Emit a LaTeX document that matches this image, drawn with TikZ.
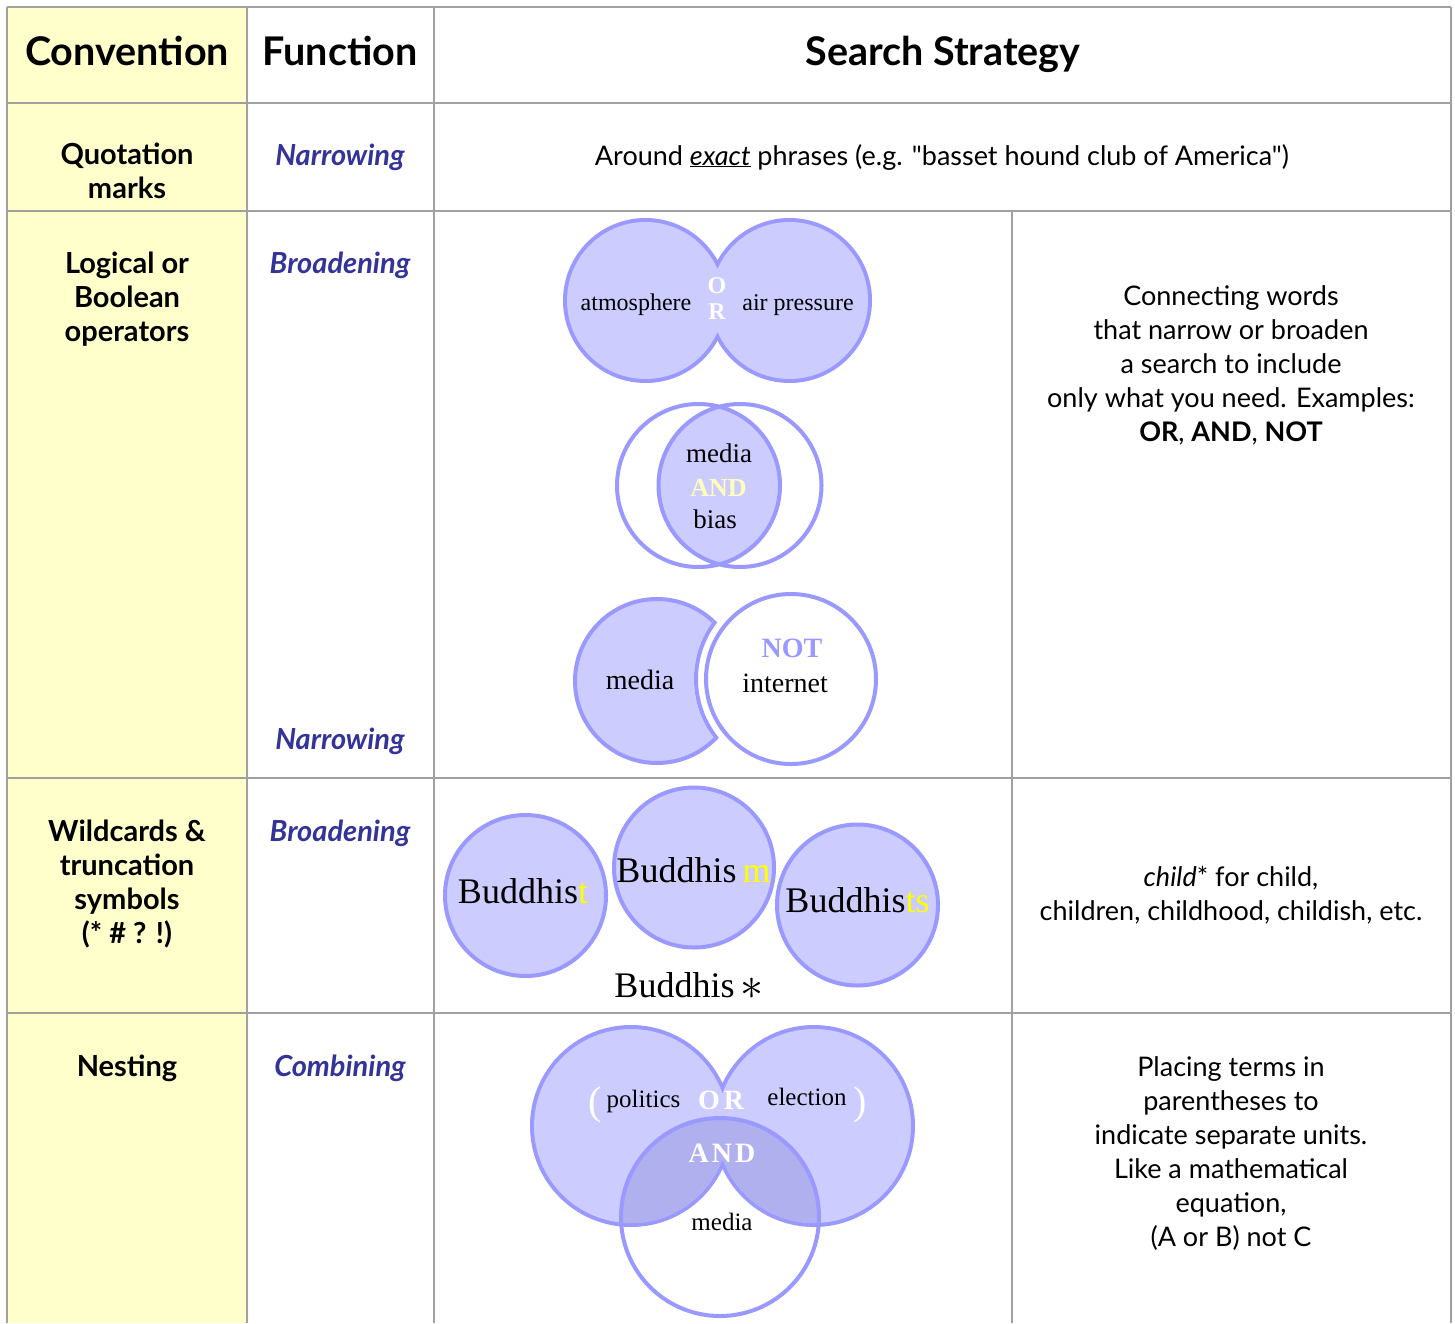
\documentclass[tikz,border=0pt]{standalone}
\usepackage{fontspec}
\setmainfont{Lato}[Ligatures=TeXOff]
\newfontfamily\tms{Liberation Serif}
\definecolor{lav}{HTML}{CCCCFF}
\definecolor{lavline}{HTML}{9999FF}
\definecolor{lavdark}{HTML}{B0B0EE}
\definecolor{navyblue}{HTML}{333399}
\definecolor{cellyellow}{HTML}{FFFFCC}
\definecolor{gridgray}{HTML}{A0A0A0}
\definecolor{softyellow}{HTML}{FFFFBB}
\definecolor{brightyellow}{HTML}{FFFF00}
\begin{document}
\begin{tikzpicture}[x=1pt,y=-1pt,
  grid/.style={draw=gridgray, line width=2.5pt},
  hdr/.style={font=\fontsize{39.5}{42}\selectfont\bfseries, anchor=base, inner sep=0pt},
  conv/.style={font=\fontsize{29}{34}\selectfont\bfseries, align=center, anchor=base, inner sep=0pt},
  func/.style={font=\fontsize{29}{30}\selectfont\bfseries\itshape, text=navyblue, anchor=base, inner sep=0pt},
  body/.style={font=\fontsize{27}{34}\selectfont, align=center, anchor=base, inner sep=0pt},
  serif/.style={font=\tms\fontsize{#1}{#1}\selectfont, anchor=base, inner sep=0pt},
  ring/.style={draw=lavline, line width=4pt},
  thickring/.style={draw=lavline, line width=8pt},
]
\useasboundingbox (0,0) rectangle (1455,1323);
\fill[white] (0,0) rectangle (1455,1323);
% yellow first column
\fill[cellyellow] (7,7) rectangle (247,1323);
% grid
\draw[grid] (7,7) -- (1451,7);
\draw[grid] (7,103) -- (1451,103);
\draw[grid] (7,211) -- (1451,211);
\draw[grid] (7,778) -- (1451,778);
\draw[grid] (7,1013) -- (1451,1013);
\draw[grid] (7,7) -- (7,1323);
\draw[grid] (247,7) -- (247,1323);
\draw[grid] (434,7) -- (434,1323);
\draw[grid] (1451,7) -- (1451,1323);
\draw[grid] (1012,211) -- (1012,1323);

% header
\node[hdr] (hconv) at (127,65) {Convention};
\node[hdr] (hfunc) at (340,65) {Function};
\node[hdr] (hstrat) at (943,65) {Search Strategy};

% row 2
\node[conv] (c1) at (127,198) {Quotation\\marks};
\node[func] (f1) at (340,165) {Narrowing};
\node[body] (s1) at (942,165) {Around \underline{\textit{exact}} phrases (e.g. "basset hound club of America")};

% row 3
\node[conv] (c2) at (127,341) {Logical or\\Boolean\\operators};
\node[func] (f2a) at (340,273) {Broadening};
\node[func] (f2b) at (340,749) {Narrowing};
\node[body] (d2) at (1231,441) {Connecting words\\that narrow or broaden\\a search to include\\only what you need. Examples:\\\textbf{OR}, \textbf{AND}, \textbf{NOT}};

% row 4
\node[conv] (c3) at (127,943) {Wildcards \&\\truncation\\symbols\\(* \# ? !)};
\node[func] (f3) at (340,841) {Broadening};
\node[body] (d3) at (1231,920) {\textit{child}* for child,\\children, childhood, childish, etc.};

% row 5
\node[conv] (c4) at (127,1076) {Nesting};
\node[func] (f4) at (340,1076) {Combining};
\node[body] (d4) at (1231,1246) {Placing terms in\\parentheses to\\indicate separate units.\\Like a mathematical\\equation,\\(A or B) not C};

% ---- OR diagram
\draw[thickring] (645.5,300.5) circle (78.5pt) (789.5,300.5) circle (78.5pt);
\fill[lav] (645.5,300.5) circle (78.5pt) (789.5,300.5) circle (78.5pt);
\node[serif=24] (atm) at (636,310) {atmosphere};
\node[serif=24] (airp) at (798,310) {air pressure};
\node[serif=24, text=white, font=\tms\bfseries\fontsize{24}{24}\selectfont] (orO) at (717,293) {O};
\node[serif=24, text=white, font=\tms\bfseries\fontsize{24}{24}\selectfont] (orR) at (717,319) {R};

% ---- AND diagram
\begin{scope}
  \clip (698.5,485.5) circle (81.5pt);
  \fill[lav] (740,485.5) circle (81.5pt);
\end{scope}
\draw[ring] (698.5,485.5) circle (81.5pt) (740,485.5) circle (81.5pt);
\node[serif=27] (andm) at (719,462) {media};
\node[serif=26, text=softyellow, font=\tms\bfseries\fontsize{26}{26}\selectfont] (andA) at (718.5,496) {AND};
\node[serif=27] (andb) at (715,528) {bias};

% ---- NOT diagram
\fill[lav] (657,681) circle (82pt);
\draw[ring] (657,681) circle (82pt);
\fill[white] (791,679) circle (97pt);
\begin{scope}
  \clip (657,681) circle (84pt);
  \draw[ring] (791,679) circle (95pt);
\end{scope}
\draw[ring, fill=white] (791,679) circle (85pt);
\node[serif=28] (notm) at (640,689) {media};
\node[serif=28, text=lavline, font=\tms\bfseries\fontsize{28}{28}\selectfont] (notN) at (792,657) {NOT};
\node[serif=28] (noti) at (785,692) {internet};

% ---- Wildcard diagram
\draw[ring, fill=lav] (525.5,895.5) circle (80.5pt);
\draw[ring, fill=lav] (694,867.5) circle (80pt);
\draw[ring, fill=lav] (857.5,905) circle (80.5pt);
\node[serif=36] (b1) at (523,903) {Buddhis\textcolor{brightyellow}{t}};
\node[serif=36] (b2) at (693.5,882) {Buddhis\,\textcolor{brightyellow}{m}};
\node[serif=36] (b3) at (857.5,912) {Buddhis\textcolor{brightyellow}{ts}};
\node[serif=36] (b4) at (689,997) {Buddhis\,\raisebox{-2.5pt}{\scalebox{1.85}{$\ast$}}};

% ---- Nesting diagram
\draw[thickring] (631,1126) circle (97pt) (814,1126) circle (97pt);
\fill[lav] (631,1126) circle (97pt) (814,1126) circle (97pt);
\begin{scope}
  \clip (720,1217) circle (99pt);
  \fill[lavdark] (631,1126) circle (97pt) (814,1126) circle (97pt);
\end{scope}
\draw[ring] (720,1217) circle (99pt);
\node[serif=40, text=white] (lpar) at (595,1114) {(};
\node[serif=25] (pol) at (643.5,1107) {politics};
\node[serif=28, text=white, font=\tms\bfseries\fontsize{28}{28}\selectfont] (nor) at (721,1109) {O\hspace{4pt}R};
\node[serif=25] (ele) at (807,1105) {election};
\node[serif=40, text=white] (rpar) at (860,1114) {)};
\node[serif=28, text=white, font=\tms\bfseries\fontsize{28}{28}\selectfont] (nand) at (722,1162) {A\hspace{3pt}N\hspace{3pt}D};
\node[serif=25] (nmed) at (722,1230) {media};
\end{tikzpicture}
\end{document}
